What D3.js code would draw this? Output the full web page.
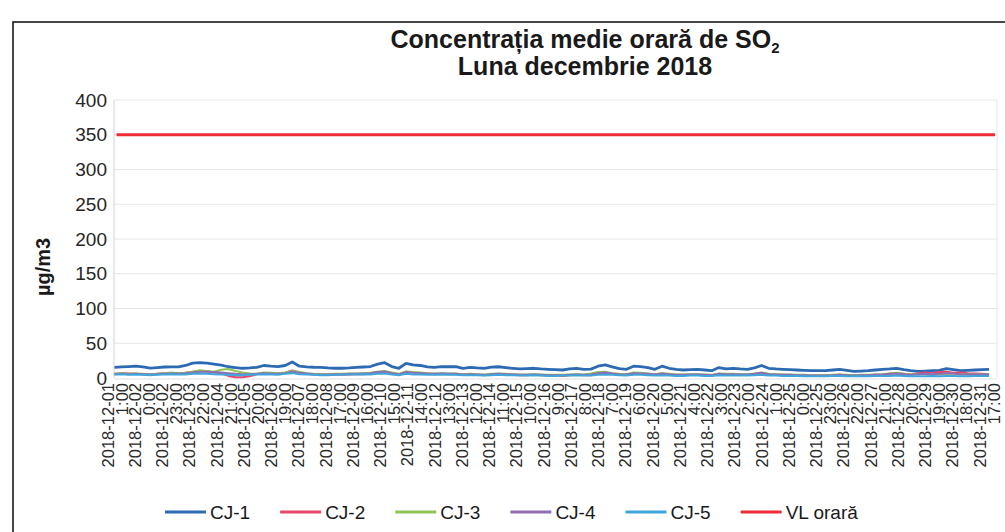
<!DOCTYPE html>
<html>
<head>
<meta charset="utf-8">
<script src="https://cdn.jsdelivr.net/npm/d3@7"></script>
<style>
  body { margin: 0; background: #fff; }
  svg { display: block; font-family: Arial, "Liberation Sans", sans-serif; }
</style>
</head>
<body>
<div id="chart"></div>
<script>
// Hourly series sampled every 6 hours (00 = 2018-12-01 1:00), 4 values per day
var sampleStep = 6;
var cj1 = [
  15.3, 16, 16.5, 17.2,   16, 14.3, 15, 15.8,   16, 16, 18, 21.5,   22, 21.5, 20, 18.6,
  16.2, 15, 14, 14.5,     15.3, 18, 17, 16.5,   18, 23, 17, 16,     15.5, 15.3, 14.5, 14,
  14, 14.5, 15.3, 15.8,   16.5, 20, 22, 16.5,   14, 21, 19, 18,     16, 15.3, 16.5, 16.2,
  16.5, 14, 15.3, 14.5,   14, 15.5, 16.2, 15,   14, 13, 13.5, 14,   13, 12.5, 12, 11.5,
  13, 14, 12.5, 12.8,     17, 19, 16, 13.5,     12.5, 17, 16.5, 15, 12.5, 17, 14, 12.3,
  11.5, 12, 12.5, 11.5,   10.5, 15, 13, 14,     13, 12.5, 14.5, 18, 14, 13, 12.5, 12,
  11.5, 11, 10.5, 10.5,   10.5, 11.5, 12.5, 11, 9.5, 10, 10.5, 11.5, 12.5, 13, 14, 12,
  10.5, 9.5, 10, 10.5,    11, 13.5, 12, 10.5,   11, 11.5, 12, 12.5
];
var cj2 = [
  6, 7, 6.5, 6,      5.5, 5, 6, 7,      6.5, 6, 7.5, 9,    10, 9.5, 8, 7,
  3, 1, 1, 2.5,      5.5, 7, 6.5, 6,    7.5, 11, 8, 6,     5, 4.5, 4.5, 5,
  4.5, 5, 5.5, 5.5,  6, 8, 9, 6.5,      5, 9, 7.5, 7,      6, 5.5, 6, 5.5,
  5.5, 4.5, 5, 4.5,  4, 5, 5.5, 5,      4.5, 4, 4, 4.5,    4, 3.5, 3.5, 3,
  4, 4.5, 4, 4,      6, 7.5, 6, 5,      4.5, 6.5, 6, 5.5,  4.5, 6, 5, 4.5,
  4, 4.5, 4.5, 4,    4, 5.5, 5, 5,      4.5, 4.5, 5, 6.5,  5, 4.5, 4, 4,
  4, 3.5, 3.5, 3.5,  3.5, 4, 4.5, 4,    3.5, 4, 4, 4.5,    5, 6, 7, 6,
  5, 6.5, 8, 7,      8.5, 9, 7.5, 8,    7, 6.5, 6, 5.5
];
var cj3 = [
  6, 6.5, 6, 6.5,    6, 5.5, 6, 7,      8, 7, 7.5, 9,      11, 10, 9, 12,
  13, 10, 8, 6.5,    6, 8, 7.5, 7,      8, 10, 9, 7,       6, 5.5, 5.5, 6,
  6, 6.5, 6.5, 7,    7.5, 9, 10, 8,     6, 9.5, 8.5, 8,    7, 6.5, 7, 6.5,
  6.5, 5.5, 6, 5.5,  5, 6, 6.5, 6,      5.5, 5, 5, 5.5,    5, 4.5, 4.5, 4.5,
  5, 5.5, 5, 6.5,    8.5, 9, 7, 6,      5.5, 8, 7.5, 6.5,  5.5, 7, 6, 5,
  5, 5.5, 5.5, 5,    4.5, 6.5, 6, 6,    5.5, 5.5, 6.5, 8,  6, 5.5, 5, 5,
  4.5, 4.5, 4, 4,    4, 4.5, 5, 4.5,    4, 4.5, 4.5, 5,    5.5, 6.5, 7.5, 6,
  5, 5.5, 5.5, 5,    5.5, 6.5, 6, 5,    5, 5.5, 5.5, 5
];
var cj4 = [
  5.5, 6, 5.5, 6,    5.5, 5, 5.5, 6,    6.5, 6.5, 7, 8,    9, 9, 8.5, 8,
  7, 6, 5.5, 5.5,    6, 7, 6.5, 6,      7, 9, 7.5, 6.5,    5.5, 5, 5, 5.5,
  5.5, 6, 6, 6.5,    7, 8.5, 9.5, 7,    5.5, 8.5, 7.5, 7,  6.5, 6, 6.5, 6,
  6, 5, 5.5, 5,      4.5, 5.5, 6, 5.5,  5, 4.5, 4.5, 5,    4.5, 4, 4, 4,
  4.5, 5, 4.5, 5,    7, 8, 6.5, 5.5,    5, 7, 6.5, 6,      5, 6.5, 5.5, 4.5,
  4.5, 5, 5, 4.5,    4, 6, 5.5, 5.5,    5, 5, 6, 7.5,      5.5, 5, 4.5, 4.5,
  4, 4, 3.5, 3.5,    3.5, 4, 4.5, 4,    3.5, 4, 4, 4.5,    5, 6, 6.5, 5.5,
  4.5, 5.5, 6, 5.5,  6, 7, 6.5, 5.5,    5, 5.5, 5, 5
];
var cj5 = [
  5, 5.5, 4.5, 5,    4.5, 4, 4.5, 5,    5.5, 5, 5, 6,      6.5, 6, 5.5, 5,
  4.5, 4, 4, 4.5,    5, 5.5, 5, 4.5,    6, 7, 5.5, 5,      4.5, 4, 4, 4.5,
  4.5, 5, 5, 5.5,    5, 6, 6.5, 5,      4, 6, 5, 5,        4.5, 4.5, 5, 4.5,
  4.5, 4, 4, 4,      3.5, 4, 4.5, 4,    4, 3.5, 3.5, 4,    3.5, 3, 3, 3.5,
  3.5, 4, 3.5, 3.5,  4.5, 5, 4.5, 4,    3.5, 4.5, 4.5, 4,  3.5, 4, 3.5, 3,
  3, 3.5, 3.5, 3,    3, 4, 3.5, 3.5,    3.5, 3.5, 4, 4.5,  3.5, 3.5, 3, 3,
  3, 2.5, 2.5, 2.5,  2.5, 3, 3, 2.5,    2.5, 2.5, 2.5, 3,  3, 3, 3.5, 3,
  2.5, 2.5, 2.5, 3,  2.5, 3, 3, 2.5,    2.5, 3, 3, 3
];
var vlOrara = 350;
var hoursTotal = 744;   // 2018-12-01 1:00 ... 2018-12-31 24:00

var seriesNames = ["CJ-1", "CJ-2", "CJ-3", "CJ-4", "CJ-5", "VL orară"];
var seriesColors = ["#2c6bb3", "#e8456d", "#8fc552", "#8e6db3", "#3ea6dc", "#ef2b37"];

// category labels shown on the axis (every 23 hours)
var tickStep = 23;
var tickDates = ["2018-12-01", "2018-12-02", "2018-12-02", "2018-12-03", "2018-12-04", "2018-12-05",
  "2018-12-06", "2018-12-07", "2018-12-08", "2018-12-09", "2018-12-10", "2018-12-11", "2018-12-12",
  "2018-12-13", "2018-12-14", "2018-12-15", "2018-12-16", "2018-12-17", "2018-12-18", "2018-12-19",
  "2018-12-20", "2018-12-21", "2018-12-22", "2018-12-23", "2018-12-24", "2018-12-25", "2018-12-25",
  "2018-12-26", "2018-12-27", "2018-12-28", "2018-12-29", "2018-12-30", "2018-12-31"];
var tickTimes = ["1:00", "0:00", "23:00", "22:00", "21:00", "20:00", "19:00", "18:00", "17:00",
  "16:00", "15:00", "14:00", "13:00", "12:00", "11:00", "10:00", "9:00", "8:00", "7:00", "6:00",
  "5:00", "4:00", "3:00", "2:00", "1:00", "0:00", "23:00", "22:00", "21:00", "20:00", "19:00",
  "18:00", "17:00"];
var yTicks = [0, 50, 100, 150, 200, 250, 300, 350, 400];

var W = 1005, H = 532;
var plot = { left: 114, right: 997, top: 100, bottom: 378 };

var svg = d3.select("#chart").append("svg").attr("width", W).attr("height", H);

// outer chart frame
svg.append("rect").attr("x", 13).attr("y", 22).attr("width", 1010).attr("height", 530)
  .attr("fill", "none").attr("stroke", "#1a1a1a").attr("stroke-width", 1.6);

var x = d3.scaleLinear().domain([0, hoursTotal - 1]).range([plot.left + 0.5, plot.right - 2]);
var y = d3.scaleLinear().domain([0, 400]).range([plot.bottom, plot.top]);

// gridlines
svg.append("g").selectAll("line").data(yTicks.slice(1)).enter().append("line")
  .attr("x1", plot.left).attr("x2", plot.right)
  .attr("y1", function(d) { return y(d); }).attr("y2", function(d) { return y(d); })
  .attr("stroke", "#e4e6ea").attr("stroke-width", 1);
svg.append("line").attr("x1", plot.right).attr("x2", plot.right).attr("y1", plot.top).attr("y2", plot.bottom)
  .attr("stroke", "#e4e6ea");
svg.append("line").attr("x1", plot.left).attr("x2", plot.left).attr("y1", plot.top).attr("y2", plot.bottom)
  .attr("stroke", "#cdd5e0");
svg.append("line").attr("x1", plot.left).attr("x2", plot.right).attr("y1", plot.bottom + 1).attr("y2", plot.bottom + 1)
  .attr("stroke", "#dfe3e8");

// y axis labels
var yAxis = svg.append("g").attr("transform", "translate(" + plot.left + ",0)")
  .call(d3.axisLeft(y).tickValues(yTicks).tickSize(0).tickPadding(7));
yAxis.select(".domain").remove();
yAxis.selectAll("text").attr("font-size", 19).attr("fill", "#262626")
  .attr("font-family", "Arial, 'Liberation Sans', sans-serif");

svg.append("text").attr("transform", "translate(50,267) rotate(-90)")
  .attr("text-anchor", "middle").attr("font-size", 20).attr("font-weight", "bold")
  .attr("fill", "#1a1a1a").text("µg/m3");

// x axis labels (two lines, rotated)
var tickIdx = tickDates.map(function(d, i) { return i * tickStep; });
var xl = svg.append("g").selectAll("g").data(tickIdx).enter().append("g")
  .attr("transform", function(d) { return "translate(" + x(d) + "," + (plot.bottom + 5) + ") rotate(-90)"; });
xl.append("text").attr("text-anchor", "end").attr("x", 0).attr("y", -1)
  .attr("font-size", 16.5).attr("fill", "#2a2a2a")
  .text(function(d, i) { return tickDates[i]; });
xl.append("text").attr("text-anchor", "end").attr("x", 0).attr("y", 13)
  .attr("font-size", 16.5).attr("fill", "#2a2a2a")
  .text(function(d, i) { return tickTimes[i]; });

// data lines
var line = d3.line()
  .x(function(d, i) { return x(i * sampleStep); })
  .y(function(d) { return y(d); });
var allSeries = [cj1, cj2, cj3, cj4, cj5];
allSeries.forEach(function(s, k) {
  svg.append("path").datum(s).attr("d", line).attr("fill", "none")
    .attr("stroke", seriesColors[k]).attr("stroke-width", k == 0 ? 2.8 : 2)
    .attr("stroke-linejoin", "round");
});
svg.append("line").attr("x1", x(0) + 2).attr("x2", x(hoursTotal - 1))
  .attr("y1", y(vlOrara)).attr("y2", y(vlOrara))
  .attr("stroke", seriesColors[5]).attr("stroke-width", 3);

// title
var title = svg.append("text").attr("text-anchor", "middle").attr("font-weight", "bold")
  .attr("font-size", 25).attr("fill", "#1a1a1a");
var t1 = title.append("tspan").attr("x", 585).attr("y", 48);
t1.append("tspan").text("Concentrația medie orară de SO");
t1.append("tspan").attr("font-size", 15).attr("dy", 5).text("2");
title.append("tspan").attr("x", 585).attr("y", 75).text("Luna decembrie 2018");

// legend
var lg = svg.append("g");
var lx = 165, ly = 512;
seriesNames.forEach(function(name, i) {
  lg.append("line").attr("x1", lx).attr("x2", lx + 41).attr("y1", ly).attr("y2", ly)
    .attr("stroke", seriesColors[i]).attr("stroke-width", 3);
  var t = lg.append("text").attr("x", lx + 45).attr("y", ly + 7).attr("font-size", 19)
    .attr("fill", "#1a1a1a").text(name);
  lx = lx + 45 + t.node().getComputedTextLength() + 30;
});
</script>
</body>
</html>
